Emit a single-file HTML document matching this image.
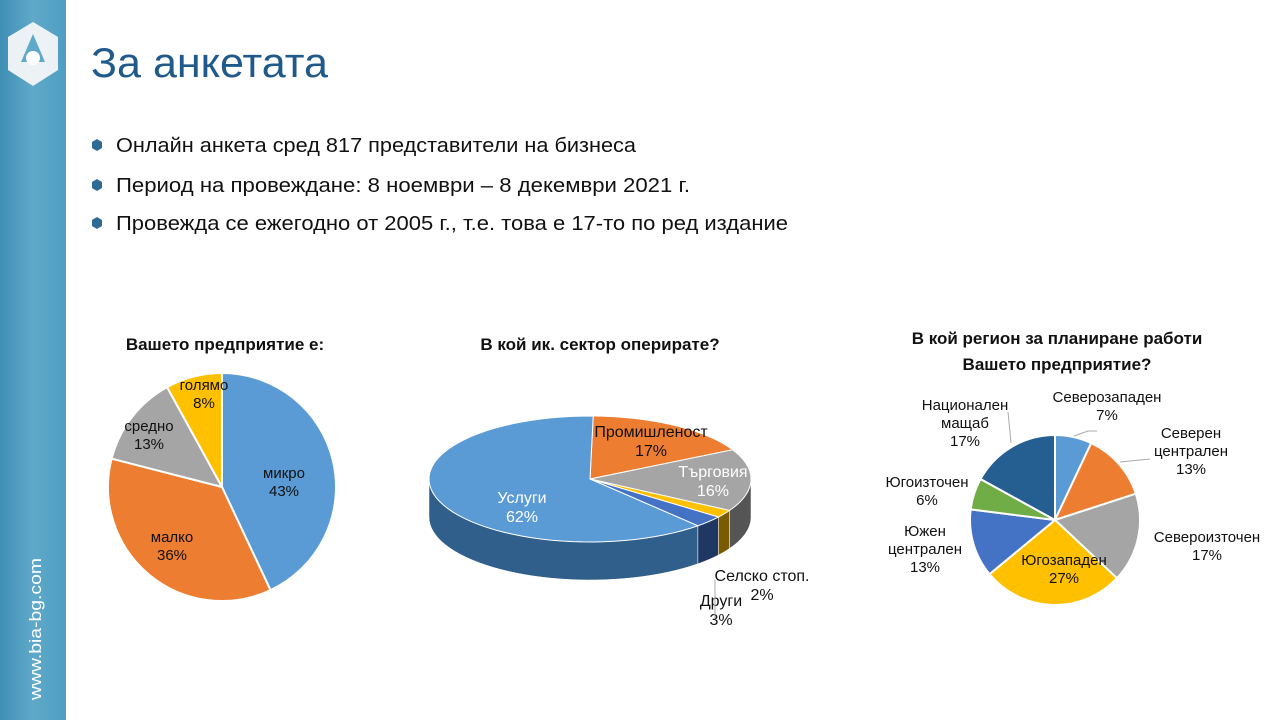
<!DOCTYPE html>
<html><head><meta charset="utf-8"><style>
body{margin:0;width:1280px;height:720px;overflow:hidden;background:#fff;font-family:"Liberation Sans",sans-serif}
svg{display:block}
</style></head><body>
<svg id="s" width="1280" height="720" xmlns="http://www.w3.org/2000/svg">
<defs>
<linearGradient id="side" x1="0" x2="1"><stop offset="0" stop-color="#3f8fb5"/><stop offset="0.5" stop-color="#5fa9c9"/><stop offset="1" stop-color="#4e9ec2"/></linearGradient>
</defs>
<rect x="0" y="0" width="66" height="720" fill="url(#side)"/>
<g>
<polygon points="33,22 58,37 58,70 33,86 8,70 8,37" fill="#f4f6f8" opacity="0.95"/>
<polygon points="33,34 45,62 21,62" fill="#5fa9c9"/>
<circle cx="33" cy="58" r="7" fill="#fff"/>
</g>
<text x="0" y="0" transform="translate(41,700) rotate(-90)" font-size="17" fill="#fff" textLength="142" lengthAdjust="spacingAndGlyphs">www.bia-bg.com</text>
<text x="91" y="77" font-size="42" fill="#1f5a8a" textLength="237" lengthAdjust="spacingAndGlyphs">За анкетата</text>
<g font-size="20" fill="#111">
<g><polygon points="97,139 102,142 102,148 97,151 92,148 92,142" fill="#2e6a96"/><text x="116" y="152" textLength="520" lengthAdjust="spacingAndGlyphs">Онлайн анкета сред 817 представители на бизнеса</text></g>
<g><polygon points="97,179 102,182 102,188 97,191 92,188 92,182" fill="#2e6a96"/><text x="116" y="192" textLength="574" lengthAdjust="spacingAndGlyphs">Период на провеждане: 8 ноември – 8 декември 2021 г.</text></g>
<g><polygon points="97,217 102,220 102,226 97,229 92,226 92,220" fill="#2e6a96"/><text x="116" y="230" textLength="672" lengthAdjust="spacingAndGlyphs">Провежда се ежегодно от 2005 г., т.е. това е 17-то по ред издание</text></g>
</g>
<g font-weight="bold" font-size="17" fill="#111" text-anchor="middle">
<text x="225" y="350">Вашето предприятие е:</text>
<text x="600" y="350">В кой ик. сектор оперирате?</text>
<text x="1057" y="344">В кой регион за планиране работи</text>
<text x="1057" y="370">Вашето предприятие?</text>
</g>
<g id="c1"></g>
<g id="c2"></g>
<g id="c3"></g>
</svg>
<script>
const sizeCats=["микро","малко","средно","голямо"];
const sizeVals=[43,36,13,8];
const sectorCats=["Промишленост","Търговия","Селско стоп.","Други","Услуги"];
const sectorVals=[17,16,2,3,62];
const regionCats=["Северозападен","Северен централен","Североизточен","Югозападен","Южен централен","Югоизточен","Национален мащаб"];
const regionVals=[7,13,17,27,13,6,17];

const NS="http://www.w3.org/2000/svg";
function mk(tag,attrs,parent){const e=document.createElementNS(NS,tag);for(const k in attrs)e.setAttribute(k,attrs[k]);parent.appendChild(e);return e;}
function lbl(parent,x,y,lines,color,size){const t=mk("text",{x:x,y:y,"text-anchor":"middle","font-size":size,fill:color},parent);
 lines.forEach((l,i)=>{const s=mk("tspan",{x:x,dy:i?size*1.2:0},t);s.textContent=l;});
 
 
 return t;}
function pie(g,cx,cy,r,vals,cols,names){
 const tot=vals.reduce((a,b)=>a+b,0);let a0=0;
 vals.forEach((v,i)=>{const a1=a0+v/tot*2*Math.PI;
  const x0=cx+r*Math.sin(a0),y0=cy-r*Math.cos(a0),x1=cx+r*Math.sin(a1),y1=cy-r*Math.cos(a1);
  const p=mk("path",{d:`M${cx},${cy}L${x0},${y0}A${r},${r} 0 ${a1-a0>Math.PI?1:0} 1 ${x1},${y1}Z`,fill:cols[i],stroke:"#fff","stroke-width":2},g);
  
  
  a0=a1;});
}
const g1=document.getElementById("c1");
pie(g1,222,487,114,sizeVals,["#5b9bd5","#ed7d31","#a5a5a5","#ffc000"],sizeCats);
lbl(g1,284,478,[sizeCats[0],sizeVals[0]+"%"],"#111",15);
lbl(g1,172,542,[sizeCats[1],sizeVals[1]+"%"],"#111",15);
lbl(g1,149,431,[sizeCats[2],sizeVals[2]+"%"],"#111",15);
lbl(g1,204,390,[sizeCats[3],sizeVals[3]+"%"],"#111",15);
const g2=document.getElementById("c2");
const cx=590,cy=479,rx=161,ry=63,dep=38;
const cols2=["#ed7d31","#a5a5a5","#ffc000","#4472c4","#5b9bd5"];
const side2=["#a9561f","#555","#7a5c00","#1f3763","#2f5f8a"];
const tot2=sectorVals.reduce((a,b)=>a+b,0);
const off=0.02;
function P(t,d){return [cx+rx*Math.sin(t),cy-ry*Math.cos(t)+(d||0)];}
let a=off;const angs=[];
sectorVals.forEach(v=>{const b=a+v/tot2*2*Math.PI;angs.push([a,b]);a=b;});
angs.forEach(([s,e],i)=>{const lo=Math.max(s,Math.PI/2),hi=Math.min(e,3*Math.PI/2);
 if(hi<=lo)return;let pts=[];const n=40;
 for(let k=0;k<=n;k++){pts.push(P(lo+(hi-lo)*k/n));}
 for(let k=n;k>=0;k--){pts.push(P(lo+(hi-lo)*k/n,dep));}
 const p=mk("polygon",{points:pts.map(q=>q.join(",")).join(" "),fill:side2[i],stroke:"#fff","stroke-width":0.5},g2);
 
 });
angs.forEach(([s,e],i)=>{const n=60;let pts=[[cx,cy]];
 for(let k=0;k<=n;k++)pts.push(P(s+(e-s)*k/n));
 const p=mk("polygon",{points:pts.map(q=>q.join(",")).join(" "),fill:cols2[i],stroke:"#fff","stroke-width":1},g2);
 
 });
lbl(g2,651,437,[sectorCats[0],sectorVals[0]+"%"],"#111",16);
lbl(g2,713,477,[sectorCats[1],sectorVals[1]+"%"],"#fff",16);
lbl(g2,522,503,[sectorCats[4],sectorVals[4]+"%"],"#fff",16);
lbl(g2,762,581,[sectorCats[2],sectorVals[2]+"%"],"#111",16);
lbl(g2,721,606,[sectorCats[3],sectorVals[3]+"%"],"#111",16);
mk("line",{x1:715,y1:618,x2:715,y2:580,stroke:"#aaa"},g2);
const g3=document.getElementById("c3");
pie(g3,1055,520,85,regionVals,["#5b9bd5","#ed7d31","#a5a5a5","#ffc000","#4472c4","#70ad47","#255e91"],regionCats);
lbl(g3,1107,402,["Северозападен",regionVals[0]+"%"],"#111",15);
lbl(g3,1191,438,["Северен","централен",regionVals[1]+"%"],"#111",15);
lbl(g3,1207,542,["Североизточен",regionVals[2]+"%"],"#111",15);
lbl(g3,1064,565,["Югозападен",regionVals[3]+"%"],"#111",15);
lbl(g3,925,536,["Южен","централен",regionVals[4]+"%"],"#111",15);
lbl(g3,927,487,["Югоизточен",regionVals[5]+"%"],"#111",15);
lbl(g3,965,410,["Национален","мащаб",regionVals[6]+"%"],"#111",15);
mk("polyline",{points:"1074,436 1088,431 1097,431",fill:"none",stroke:"#aaa"},g3);
mk("polyline",{points:"1120,462 1150,459",fill:"none",stroke:"#aaa"},g3);
mk("polyline",{points:"1011,443 1008,412",fill:"none",stroke:"#aaa"},g3);
</script>
</body></html>
